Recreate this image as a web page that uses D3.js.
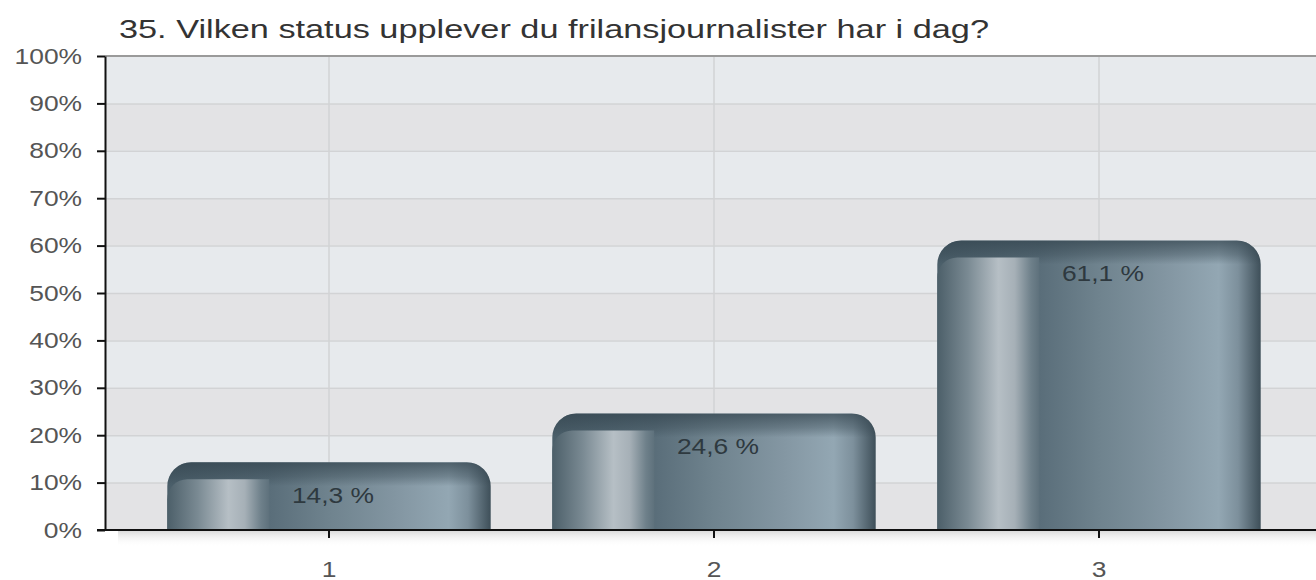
<!DOCTYPE html>
<html>
<head>
<meta charset="utf-8">
<script src="https://cdn.jsdelivr.net/npm/d3@7"></script>
<style>
  html, body { margin: 0; padding: 0; background: #ffffff; }
  svg { display: block; }
  text { font-family: "Liberation Sans", Arial, Helvetica, sans-serif; }
</style>
</head>
<body>
<svg id="chart" width="1316" height="580"></svg>
<script>
const title = "35. Vilken status upplever du frilansjournalister har i dag?";
const categories = ["1", "2", "3"];
const values = [14.3, 24.6, 61.1];
const valueLabels = ["14,3 %", "24,6 %", "61,1 %"];
const yTicks = [0, 10, 20, 30, 40, 50, 60, 70, 80, 90, 100];

const plot = { left: 105, right: 1316, top: 56, bottom: 530 };
const sx = 1.2; // horizontal text stretch of the source image

const svg = d3.select("#chart");
const defs = svg.append("defs");

function linGrad(id, stops, vertical) {
  const g = defs.append("linearGradient").attr("id", id)
    .attr("x1", 0).attr("y1", 0)
    .attr("x2", vertical ? 0 : 1).attr("y2", vertical ? 1 : 0);
  stops.forEach(s => g.append("stop").attr("offset", s[0]).attr("stop-color", s[1])
    .attr("stop-opacity", s[2] === undefined ? 1 : s[2]));
}
linGrad("bodyGrad", [[0, "#4b5f6a"], [0.32, "#5a6e7a"], [0.5, "#6f838e"], [0.72, "#8497a3"],
  [0.87, "#93a7b3"], [0.93, "#7d909c"], [1, "#3e4f59"]]);
linGrad("panelGrad", [[0, "#4c5f69"], [0.3, "#7a8a93"], [0.6, "#b6bfc5"], [0.76, "#a6b0b7"],
  [0.92, "#6e808a"], [1, "#5e717c"]]);
linGrad("topGrad", [[0, "#33444e", 0.72], [0.6, "#33444e", 0.35], [1, "#33444e", 0.0]], true);
linGrad("shadowGrad", [[0, "#d8d8d8", 0.9], [1, "#ffffff", 0]], true);

const x = d3.scaleBand().domain(categories).range([136.5, 1291.5])
  .paddingInner(0.16).paddingOuter(0.08);
const y = d3.scaleLinear().domain([0, 100]).range([plot.bottom, plot.top]);

// plot background stripes
const bands = yTicks.slice(0, -1);
svg.append("g").selectAll("rect").data(bands).join("rect")
  .attr("x", plot.left).attr("width", plot.right - plot.left)
  .attr("y", d => y(d + 10)).attr("height", d => y(d) - y(d + 10))
  .attr("fill", (d, i) => i % 2 === 0 ? "#e3e3e5" : "#e7eaed");

// shadow under x axis
svg.append("rect").attr("x", 118).attr("y", plot.bottom + 1)
  .attr("width", plot.right - 118).attr("height", 16).attr("fill", "url(#shadowGrad)");

// gridlines
svg.append("g").selectAll("line").data(yTicks.slice(1, -1)).join("line")
  .attr("x1", plot.left).attr("x2", plot.right)
  .attr("y1", d => y(d) + 0.5).attr("y2", d => y(d) + 0.5)
  .attr("stroke", "#d2d3d5").attr("stroke-width", 1.5);
svg.append("g").selectAll("line").data(categories).join("line")
  .attr("x1", d => x(d) + x.bandwidth() / 2).attr("x2", d => x(d) + x.bandwidth() / 2)
  .attr("y1", plot.top).attr("y2", plot.bottom)
  .attr("stroke", "#d2d3d5").attr("stroke-width", 1.5);

// top border
svg.append("line").attr("x1", plot.left).attr("x2", plot.right)
  .attr("y1", plot.top).attr("y2", plot.top)
  .attr("stroke", "#9a9a9a").attr("stroke-width", 2);

// bars
const r = 24, pr = 20, stripH = 17, fadeH = 24, panelFrac = 0.315;
function topRounded(x0, y0, w, h, rad) {
  const rr = Math.min(rad, h, w / 2);
  return `M${x0},${y0 + h}V${y0 + rr}A${rr},${rr} 0 0 1 ${x0 + rr},${y0}H${x0 + w - rr}` +
    `A${rr},${rr} 0 0 1 ${x0 + w},${y0 + rr}V${y0 + h}Z`;
}
function leftRounded(x0, y0, w, h, rad) {
  const rr = Math.min(rad, h, w);
  return `M${x0},${y0 + h}V${y0 + rr}A${rr},${rr} 0 0 1 ${x0 + rr},${y0}H${x0 + w}V${y0 + h}Z`;
}
const barData = categories.map((c, i) => ({ c, v: values[i], label: valueLabels[i] }));
const bars = svg.append("g").selectAll("g").data(barData).join("g");
bars.append("path")
  .attr("d", d => topRounded(x(d.c), y(d.v), x.bandwidth(), plot.bottom - y(d.v), r))
  .attr("fill", "url(#bodyGrad)");
bars.each(function (d, i) {
  const cid = "clipShape" + i;
  defs.append("clipPath").attr("id", cid).append("path")
    .attr("d", topRounded(x(d.c), y(d.v), x.bandwidth(), fadeH, r));
  d3.select(this).append("rect")
    .attr("x", x(d.c)).attr("y", y(d.v)).attr("width", x.bandwidth()).attr("height", fadeH)
    .attr("clip-path", `url(#${cid})`)
    .attr("fill", "url(#topGrad)");
});
bars.append("path")
  .attr("d", d => leftRounded(x(d.c), y(d.v) + stripH, x.bandwidth() * panelFrac,
    plot.bottom - y(d.v) - stripH, pr))
  .attr("fill", "url(#panelGrad)");
bars.append("text")
  .attr("transform", d => `translate(${x(d.c) + x.bandwidth() / 2 + 4},${y(d.v) + 41}) scale(${sx},1)`)
  .attr("text-anchor", "middle")
  .attr("font-size", 22).attr("fill", "#2e393f")
  .text(d => d.label);

// y axis
const yAxis = d3.axisLeft(y).tickValues(yTicks).tickFormat(d => d + "%").tickSize(8).tickSizeOuter(0);
const gy = svg.append("g").attr("transform", `translate(${plot.left},0)`).call(yAxis);
gy.select(".domain").attr("stroke", "#111").attr("stroke-width", 2);
gy.selectAll(".tick line").attr("stroke", "#111").attr("stroke-width", 2);
gy.selectAll(".tick text")
  .attr("x", -23 / sx).attr("transform", `scale(${sx},1)`)
  .attr("font-size", 22).attr("fill", "#555")
  .attr("font-family", "Liberation Sans, Arial, sans-serif");

// x axis
const xAxis = d3.axisBottom(x).tickSize(8).tickSizeOuter(0);
const gx = svg.append("g").attr("transform", `translate(0,${plot.bottom})`).call(xAxis);
gx.select(".domain").attr("d", `M${plot.left - 8},0H${plot.right}`)
  .attr("stroke", "#111").attr("stroke-width", 2);
gx.selectAll(".tick line").attr("stroke", "#111").attr("stroke-width", 2);
gx.selectAll(".tick text")
  .attr("y", 31).attr("transform", `scale(${sx},1)`)
  .attr("font-size", 22).attr("fill", "#555")
  .attr("font-family", "Liberation Sans, Arial, sans-serif");

// title
svg.append("text").attr("x", 119).attr("y", 38)
  .attr("font-size", 26).attr("fill", "#333")
  .attr("textLength", 870).attr("lengthAdjust", "spacingAndGlyphs")
  .text(title);
</script>
</body>
</html>
